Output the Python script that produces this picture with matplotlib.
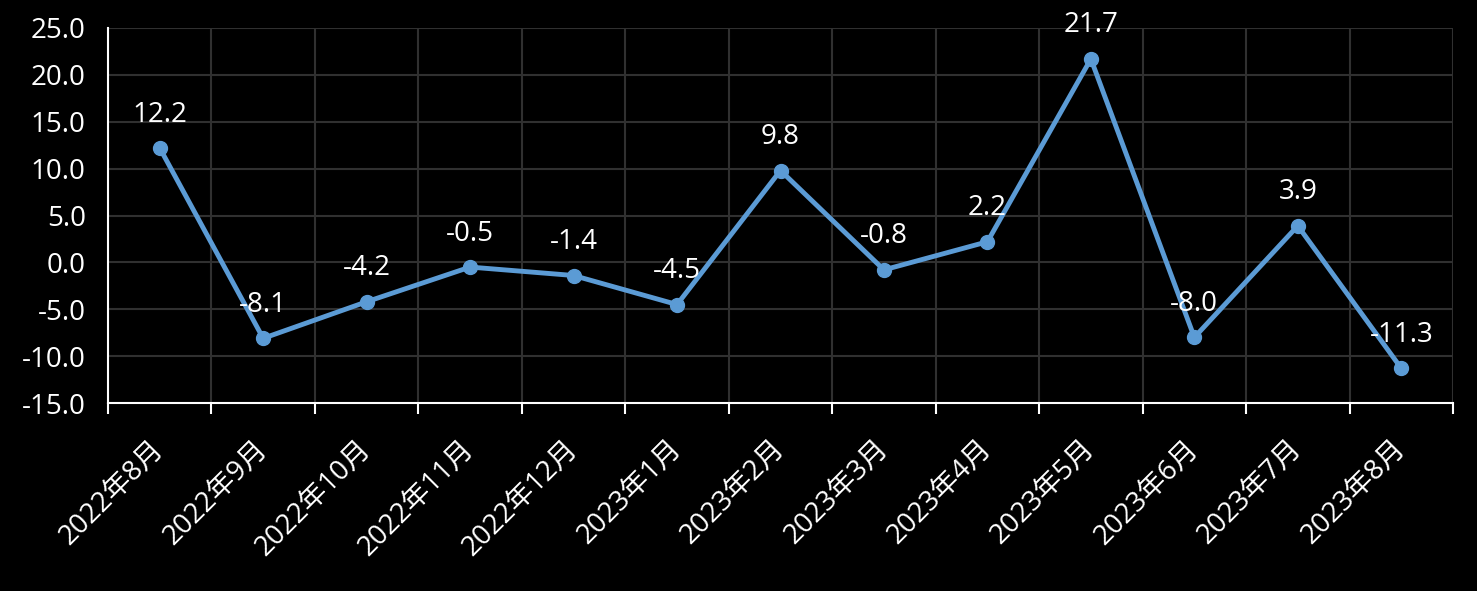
import numpy as np
import matplotlib.pyplot as plt
from matplotlib.ticker import FixedLocator, FormatStrFormatter

plt.rcParams['font.family'] = ['Open Sans', 'Noto Sans CJK SC', 'DejaVu Sans']

months = ['2022年8月', '2022年9月', '2022年10月', '2022年11月', '2022年12月',
          '2023年1月', '2023年2月', '2023年3月', '2023年4月', '2023年5月',
          '2023年6月', '2023年7月', '2023年8月']
values = [12.2, -8.1, -4.2, -0.5, -1.4, -4.5, 9.8, -0.8, 2.2, 21.7, -8.0, 3.9, -11.3]

line_color = '#5B9BD5'
grid_color = '#303030'

fig = plt.figure(figsize=(14.77, 5.91), dpi=100, facecolor='black')
ax = fig.add_axes([108 / 1477, 1 - 403 / 591, (1453 - 108) / 1477, (403 - 28) / 591])
ax.set_facecolor('black')

x = np.arange(len(months))
ax.plot(x, values, color=line_color, lw=3.5, marker='o', ms=10, zorder=3)

for xi, v in zip(x, values):
    ax.annotate(f'{v:.1f}', (xi, v), xytext=(0, 14), textcoords='offset points',
                ha='center', va='bottom', color='white', fontsize=20, zorder=4)

ax.set_xlim(-0.5, len(months) - 0.5)
ax.set_ylim(-15, 25)
ax.set_yticks(np.arange(-15, 26, 5))
ax.yaxis.set_major_formatter(FormatStrFormatter('%.1f'))

# boundaries as major ticks (with grid), labels on centres
ax.xaxis.set_major_locator(FixedLocator(np.arange(-0.5, len(months), 1.0)))
ax.xaxis.set_minor_locator(FixedLocator(x))
ax.set_xticklabels([], minor=False)
ax.set_xticklabels(months, minor=True, rotation=45, ha='right', va='center',
                   rotation_mode='anchor')
ax.tick_params(axis='x', which='major', length=8, width=1.5, color='white', direction='out')
ax.tick_params(axis='x', which='minor', length=0, pad=30, labelcolor='white', labelsize=20)
ax.tick_params(axis='y', length=0, pad=16, labelcolor='white', labelsize=20)

ax.grid(True, which='major', color=grid_color, lw=1.5)
ax.set_axisbelow(True)

for s in ['top', 'right']:
    ax.spines[s].set_visible(False)
for s in ['left', 'bottom']:
    ax.spines[s].set_color('white')
    ax.spines[s].set_linewidth(1.5)

fig.savefig('out.png', dpi=100, facecolor='black')
